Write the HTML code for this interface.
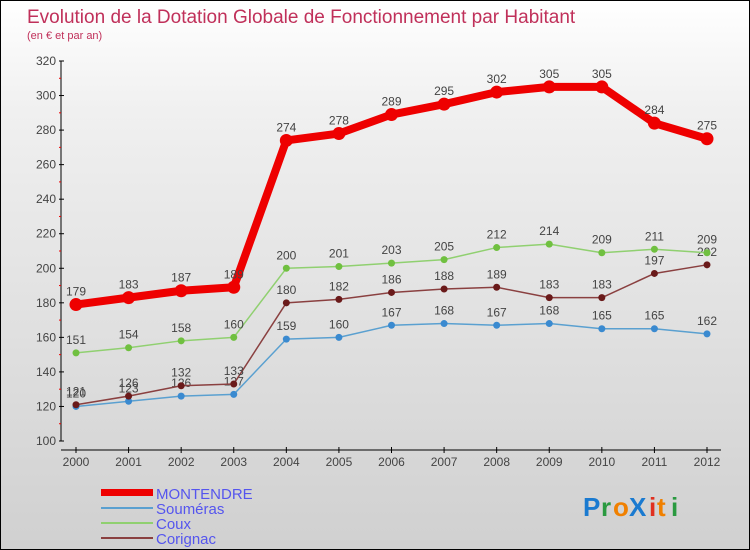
<!DOCTYPE html>
<html><head><meta charset="utf-8"><style>
body{margin:0}
#c{position:relative;width:748px;height:548px;border:1px solid #000;background:linear-gradient(#fff,#f0f0f0 20%,#d0d0d0);font-family:"Liberation Sans",sans-serif;overflow:hidden}
</style></head><body>
<div id="c">
<svg id="s" width="748" height="548" style="position:absolute;left:0;top:0">
<text x="26" y="22" font-size="19" fill="#c0305a">Evolution de la Dotation Globale de Fonctionnement par Habitant</text>
<text x="26" y="38" font-size="11" fill="#c0305a">(en € et par an)</text>
<g id="axes"></g><g id="series"></g>
<g>
<rect x="100" y="488" width="52" height="7" fill="#e00"/>
<text x="155" y="498" font-size="15" fill="#5555ee">MONTENDRE</text>
<line x1="100" y1="507" x2="152" y2="507" stroke="#5aa0d0" stroke-width="2"/>
<text x="155" y="513" font-size="15" fill="#5555ee">Souméras</text>
<line x1="100" y1="522" x2="152" y2="522" stroke="#90d070" stroke-width="2"/>
<text x="155" y="528" font-size="15" fill="#5555ee">Coux</text>
<line x1="100" y1="537" x2="152" y2="537" stroke="#8a4040" stroke-width="2"/>
<text x="155" y="543" font-size="15" fill="#5555ee">Corignac</text>
</g>
<g font-size="26" font-weight="bold">
<text x="582" y="515" fill="#1a7ad0">P</text><text x="600" y="515" fill="#2a9a40">r</text><text x="612" y="515" fill="#f08000">o</text><text x="628" y="515" fill="#1a7ad0">X</text><text x="648" y="515" fill="#e03020">i</text><text x="656" y="515" fill="#f08000">t</text><text x="670" y="515" fill="#2a9a40">i</text>
</g>
</svg>
</div>
<script>
const years=[2000,2001,2002,2003,2004,2005,2006,2007,2008,2009,2010,2011,2012];
const yTicks=[100,120,140,160,180,200,220,240,260,280,300,320];
const montendre=[179,183,187,189,274,278,289,295,302,305,305,284,275];
const soumeras=[120,123,126,127,159,160,167,168,167,168,165,165,162];
const coux=[151,154,158,160,200,201,203,205,212,214,209,211,209];
const corignac=[121,126,132,133,180,182,186,188,189,183,183,197,202];
const NS="http://www.w3.org/2000/svg";
const X=i=>75+i*(706-75)/(years.length-1);
const Y=v=>440-(v-100)*380/220;
function mk(t,a,p){const e=document.createElementNS(NS,t);for(const k in a)e.setAttribute(k,a[k]);p.appendChild(e);return e;}
const ax=document.getElementById('axes'),sg=document.getElementById('series');
const yl=mk('line',{x1:60,y1:60,x2:60,y2:440,stroke:'#000','stroke-width':1},ax);


yTicks.forEach((v,i)=>{
  mk('line',{x1:58,y1:Y(v),x2:63,y2:Y(v),stroke:'#000'},ax);
  if(i<yTicks.length-1)mk('line',{x1:58,y1:Y(v+10),x2:60,y2:Y(v+10),stroke:'#e00'},ax);
  const t=mk('text',{x:55,y:Y(v)+4,'font-size':12,fill:'#444','text-anchor':'end'},ax);t.textContent=v;
  
  
});
const xl=mk('line',{x1:60,y1:449,x2:720,y2:449,stroke:'#000'},ax);


years.forEach((y,i)=>{
  mk('line',{x1:X(i),y1:446,x2:X(i),y2:452,stroke:'#000'},ax);
  const t=mk('text',{x:X(i),y:465,'font-size':12,fill:'#444','text-anchor':'middle'},ax);t.textContent=y;
  
  
});
function series(d,color,w,r,name,dot){
  const g=mk('g',{},sg);
  
  
  mk('polyline',{points:d.map((v,i)=>X(i)+','+Y(v)).join(' '),fill:'none',stroke:color,'stroke-width':w,'stroke-linejoin':'round'},g);
  d.forEach((v,i)=>{
    const c=mk('circle',{cx:X(i),cy:Y(v),r:r,fill:dot},g);
    
    
    const t=mk('text',{x:X(i),y:Y(v)-9,'font-size':12,fill:'#444','text-anchor':'middle'},g);t.textContent=v;
    
    
  });
}
series(soumeras,'#5aa0d0',1.5,3.5,'soumeras-line','#3a8ad0');
series(corignac,'#8a4040',1.5,3.5,'corignac-line','#6a1a1a');
series(coux,'#90d070',1.5,3.5,'coux-line','#70c040');
series(montendre,'#e00',8,6.5,'montendre-line','#e00');
</script>
</body></html>
